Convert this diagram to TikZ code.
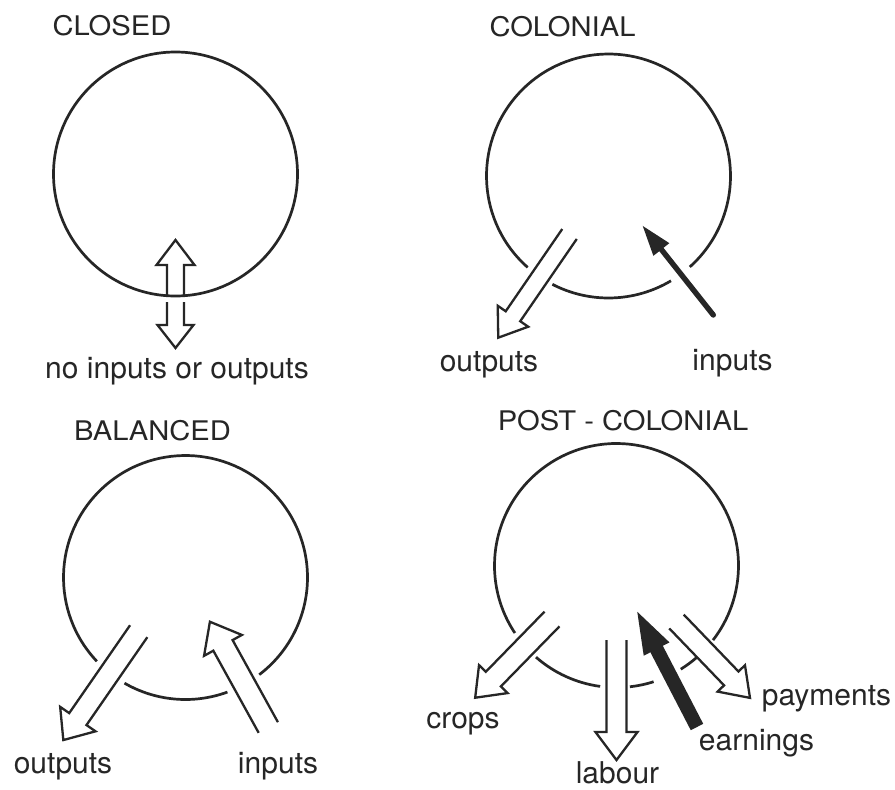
\documentclass[tikz,border=0pt]{standalone}
\usepackage{fontspec}
\setmainfont{TeX Gyre Heros}
\newfontfamily\titlefont[FakeStretch=1.08]{TeX Gyre Heros}
\definecolor{ink}{RGB}{38,38,38}
\tikzset{
  ring/.style={draw=ink, line width=2.7pt},
  arrline/.style={draw=ink, fill=white, line width=2.3pt, line join=miter},
  arrfill/.style={fill=ink},
  ttl/.style={text=ink, inner sep=0pt, anchor=base, font=\titlefont\fontsize{27}{30}\selectfont},
  lbl/.style={text=ink, inner sep=0pt, anchor=base, font=\fontsize{30}{34}\selectfont},
  pics/hollowarr/.style n args={4}{code={
    \path[arrline] (0,#2) -- ({#1-#4},#2) -- ({#1-#4},#3) -- (#1,0) -- ({#1-#4},-#3) -- ({#1-#4},-#2) -- (0,-#2);
  }},
  pics/solidarr/.style n args={4}{code={
    \path[arrfill] (0,#2) -- ({#1-#4},#2) -- ({#1-#4},#3) -- (#1,0) -- ({#1-#4},-#3) -- ({#1-#4},-#2) -- (0,-#2) -- cycle;
  }},
}
\begin{document}
\begin{tikzpicture}[x=1pt,y=-1pt]
\fill[white] (0,0) rectangle (895,790);
\useasboundingbox (0,0) rectangle (895,790);

% centres
\coordinate (cA) at (175.5,174);
\coordinate (cB) at (608.5,176);
\coordinate (cC) at (185.5,577.5);
\coordinate (cD) at (616.5,565.5);

% ---------- CLOSED ----------
\node[ttl] (tA) at (112,35) {CLOSED};
\pic at (175.5,296) [rotate=90] {hollowarr={56}{8.5}{19}{25}};
\pic at (175.5,302) [rotate=-90] {hollowarr={46}{8.5}{18}{23}};
\draw[ring] (cA) circle[radius=122];
\node[lbl] (lA) at (177,378) {no inputs or outputs};

% ---------- COLONIAL ----------
\node[ttl] (tB) at (562.5,36.7) {COLONIAL};
\draw[ring] ([shift={(131.5:122)}]cB) arc[start angle=131.5, end angle=408.2, radius=122];
\draw[ring] ([shift={(59.2:122)}]cB) arc[start angle=59.2, end angle=117.4, radius=122];
\pic at (569.5,234) [rotate=-124.5] {hollowarr={125.8}{8.8}{18.5}{26}};
\pic at (713.3,315) [rotate=128.4] {solidarr={113.6}{2.7}{10.2}{30}};
\fill[ink] (713.3,315) circle[radius=2.7];
\node[lbl] (oB) at (489,371.5) {outputs};
\node[lbl] (iB) at (732.5,370.5) {inputs};

% ---------- BALANCED ----------
\node[ttl] (tC) at (152.5,440) {BALANCED};
\draw[ring] ([shift={(136.6:122)}]cC) arc[start angle=136.6, end angle=412.8, radius=122];
\draw[ring] ([shift={(69.9:122)}]cC) arc[start angle=69.9, end angle=120, radius=122];
\pic at (138.7,631.2) [rotate=-124.7] {hollowarr={132.4}{10.5}{21.5}{25.5}};
\pic at (268.3,727.5) [rotate=118.9] {hollowarr={120.8}{11}{21.6}{27}};
\node[lbl] (oC) at (63,773.5) {outputs};
\node[lbl] (iC) at (278,773) {inputs};

% ---------- POST-COLONIAL ----------
\node[ttl] (tD) at (623,430) {POST - COLONIAL};
\draw[ring] ([shift={(146.4:122)}]cD) arc[start angle=146.4, end angle=397.7, radius=122];
\draw[ring] ([shift={(49:122)}]cD) arc[start angle=49, end angle=58.2, radius=122];
\draw[ring] ([shift={(72.3:122)}]cD) arc[start angle=72.3, end angle=83.7, radius=122];
\draw[ring] ([shift={(97.7:122)}]cD) arc[start angle=97.7, end angle=131.3, radius=122];
\pic at (552,619) [rotate=-134.3] {hollowarr={110}{10.5}{20}{26}};
\pic at (616.5,640) [rotate=-90] {hollowarr={120}{10}{21}{28}};
\pic at (676.5,621.5) [rotate=-46.1] {hollowarr={106}{10}{19}{27}};
\pic at (697,727) [rotate=117.4] {solidarr={129.8}{7}{14.5}{42}};
\node[lbl] (crD) at (463,728) {crops};
\node[lbl] (laD) at (617.5,783.5) {labour};
\node[lbl] (eaD) at (756.5,750) {earnings};
\node[lbl] (paD) at (826.5,705) {payments};
\end{tikzpicture}
\end{document}
